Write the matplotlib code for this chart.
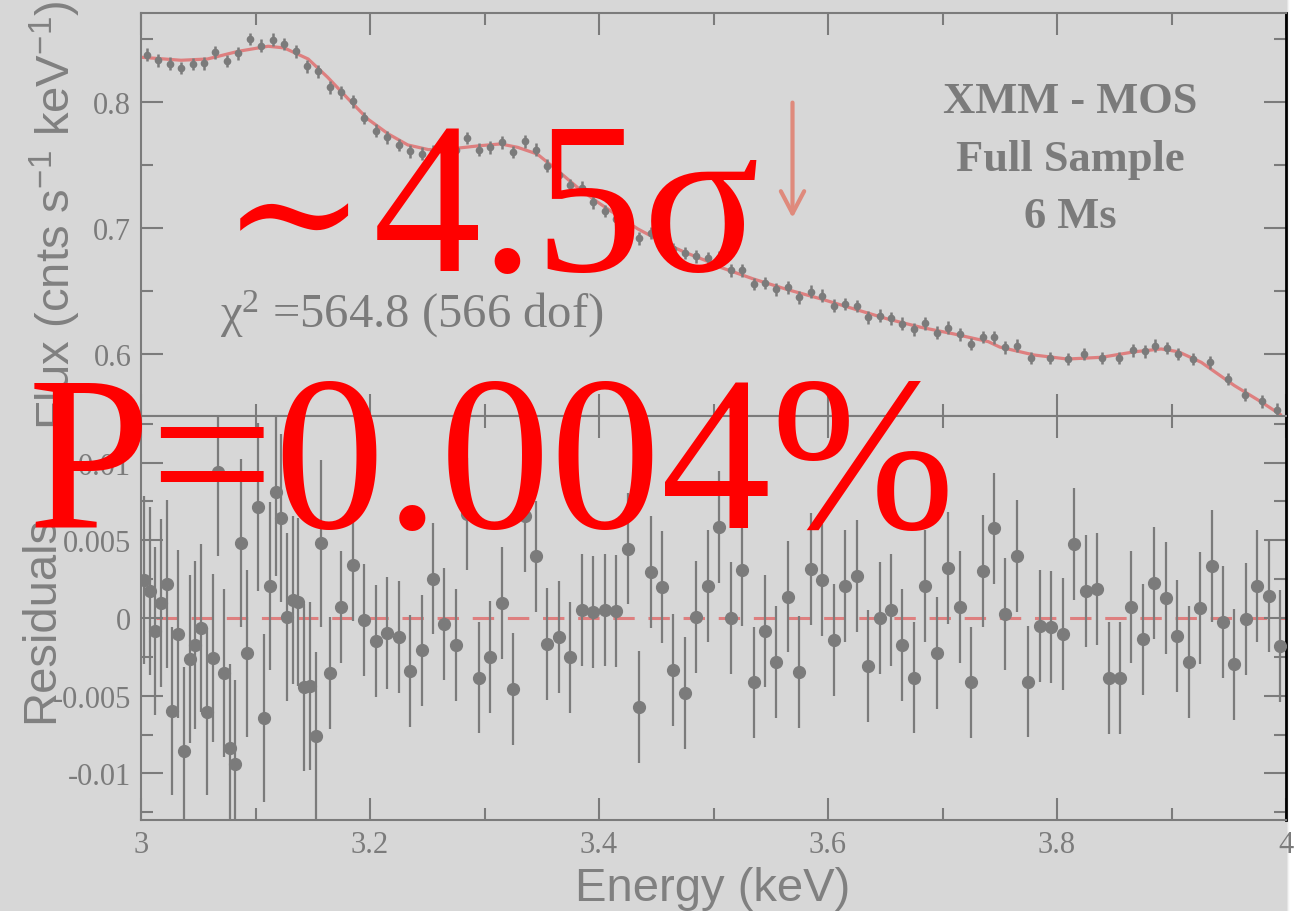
import numpy as np
import matplotlib
matplotlib.use("Agg")
import matplotlib.pyplot as plt
from matplotlib.ticker import MultipleLocator, FuncFormatter
from matplotlib.colors import LinearSegmentedColormap

BG = "#d7d7d7"
GREY = "#7b7b7b"
MODEL = "#de7f7f"
ARROW = "#df8a7c"

# top panel: binned spectrum (keV, cnts/s/keV)
flux_e = [3.005, 3.015, 3.025, 3.035, 3.045, 3.055, 3.065, 3.075, 3.085, 3.095,
          3.105, 3.115, 3.125, 3.135, 3.145, 3.155, 3.165, 3.175, 3.185, 3.195,
          3.205, 3.215, 3.225, 3.235, 3.245, 3.255, 3.265, 3.275, 3.285, 3.295,
          3.305, 3.315, 3.325, 3.335, 3.345, 3.355, 3.365, 3.375, 3.385, 3.395,
          3.405, 3.415, 3.425, 3.435, 3.445, 3.455, 3.465, 3.475, 3.485, 3.495,
          3.505, 3.515, 3.525, 3.535, 3.545, 3.555, 3.565, 3.575, 3.585, 3.595,
          3.605, 3.615, 3.625, 3.635, 3.645, 3.655, 3.665, 3.675, 3.685, 3.695,
          3.705, 3.715, 3.725, 3.735, 3.745, 3.755, 3.765, 3.777, 3.794, 3.810,
          3.824, 3.839, 3.854, 3.866, 3.877, 3.886, 3.896, 3.906, 3.919, 3.934,
          3.949, 3.964, 3.979, 3.992]
flux = [0.8375, 0.8331, 0.8304, 0.8270, 0.8302, 0.8307, 0.8394, 0.8325, 0.8386, 0.8500,
        0.8447, 0.8495, 0.8460, 0.8402, 0.8283, 0.8244, 0.8117, 0.8077, 0.8006, 0.7873,
        0.7772, 0.7720, 0.7659, 0.7609, 0.7590, 0.7605, 0.7620, 0.7615, 0.7714, 0.7622,
        0.7640, 0.7680, 0.7603, 0.7688, 0.7622, 0.7494, 0.7420, 0.7342, 0.7320, 0.7204,
        0.7135, 0.7070, 0.7030, 0.6918, 0.6960, 0.6870, 0.6830, 0.6802, 0.6775, 0.6759,
        0.6764, 0.6665, 0.6663, 0.6556, 0.6563, 0.6512, 0.6529, 0.6450, 0.6494, 0.6463,
        0.6383, 0.6397, 0.6381, 0.6292, 0.6304, 0.6283, 0.6241, 0.6196, 0.6244, 0.6169,
        0.6209, 0.6156, 0.6079, 0.6135, 0.6132, 0.6053, 0.6066, 0.5968, 0.5968, 0.5960,
        0.5999, 0.5968, 0.5968, 0.6030, 0.6020, 0.6066, 0.6048, 0.5999, 0.5960, 0.5934,
        0.5802, 0.5677, 0.5625, 0.5558]
flux_err = 0.005

# best-fit model curve
model_e = [3.000, 3.035, 3.058, 3.085, 3.111, 3.125, 3.146, 3.163, 3.181, 3.198,
           3.216, 3.233, 3.251, 3.270, 3.296, 3.314, 3.329, 3.346, 3.364, 3.381,
           3.399, 3.416, 3.434, 3.457, 3.475, 3.497, 3.506, 3.535, 3.565, 3.594,
           3.623, 3.652, 3.681, 3.710, 3.740, 3.750, 3.780, 3.809, 3.839, 3.868,
           3.891, 3.906, 3.926, 3.955, 3.979, 3.995]
model_flux = [0.8355, 0.8331, 0.8341, 0.8402, 0.8442, 0.8429, 0.8341, 0.8196, 0.8024, 0.7865,
              0.7746, 0.7659, 0.7622, 0.7627, 0.7653, 0.7667, 0.7640, 0.7587, 0.7455, 0.7323,
              0.7204, 0.7100, 0.6992, 0.6881, 0.6807, 0.6728, 0.6688, 0.6595, 0.6510, 0.6437,
              0.6357, 0.6278, 0.6212, 0.6159, 0.6098, 0.6055, 0.5992, 0.5960, 0.5974, 0.6018,
              0.6040, 0.6018, 0.5934, 0.5749, 0.5616, 0.5520]

# bottom panel: residuals
res_e = [3.0025, 3.0075, 3.0125, 3.0175, 3.0225, 3.0275, 3.0325, 3.0375, 3.0425, 3.0475,
         3.0525, 3.0575, 3.0625, 3.0675, 3.0725, 3.0775, 3.0825, 3.0875, 3.0925, 3.1025,
         3.1075, 3.1125, 3.1175, 3.1225, 3.1275, 3.1325, 3.1375, 3.1425, 3.1475, 3.1525,
         3.1575,
         3.165, 3.175, 3.185, 3.195, 3.205, 3.215, 3.225, 3.235, 3.245, 3.255,
         3.265, 3.275, 3.285, 3.295, 3.305, 3.315, 3.325, 3.335, 3.345, 3.355,
         3.365, 3.375, 3.385, 3.395, 3.405, 3.415, 3.425, 3.435, 3.445, 3.455,
         3.465, 3.475, 3.485, 3.495, 3.505, 3.515, 3.525, 3.535, 3.545, 3.555,
         3.565, 3.575, 3.585, 3.595, 3.605, 3.615, 3.625, 3.635, 3.645, 3.655,
         3.665, 3.675, 3.685, 3.695, 3.705, 3.715, 3.725, 3.735, 3.745, 3.755,
         3.765, 3.775, 3.785, 3.795, 3.805, 3.815, 3.825, 3.835, 3.845, 3.855,
         3.865, 3.875, 3.885, 3.895, 3.905, 3.915, 3.925, 3.935, 3.945, 3.955,
         3.965, 3.975, 3.985, 3.995]
res = [0.00247, 0.00176, -0.00082, 0.00097, 0.00221, -0.00596, -0.00101, -0.00856, -0.00265, -0.00172,
       -0.00065, -0.00602, -0.00258, 0.00940, -0.00355, -0.00834, -0.00942, 0.00482, -0.00228, 0.00716,
       -0.00641, 0.00204, 0.00813, 0.00645, 0.00004, 0.00114, 0.00101, -0.00447, -0.00437, -0.00759,
       0.00480,
       -0.00355, 0.00071, 0.00338, -0.00015, -0.00150, -0.00097, -0.00125, -0.00340, -0.00209, 0.00254,
       -0.00037, -0.00174, 0.00670, -0.00383, -0.00250, 0.00097, -0.00458, 0.00656, 0.00396, -0.00170,
       -0.00120, -0.00254, 0.00054, 0.00041, 0.00054, 0.00043, 0.00447, -0.00570, 0.00295, 0.00198,
       -0.00333, -0.00484, 0.00009, 0.00206, 0.00585, 0.00000, 0.00307, -0.00415, -0.00086, -0.00284,
       0.00138, -0.00348, 0.00318, 0.00245, -0.00142, 0.00204, 0.00273, -0.00308, -0.00002, 0.00052,
       -0.00174, -0.00383, 0.00204, -0.00228, 0.00323, 0.00073, -0.00415, 0.00301, 0.00576, 0.00026,
       0.00398, -0.00409, -0.00054, -0.00060, -0.00101, 0.00477, 0.00176, 0.00189, -0.00387, -0.00387,
       0.00071, -0.00138, 0.00224, 0.00127, -0.00116, -0.00282, 0.00062, 0.00335, -0.00026, -0.00299,
       -0.00009, 0.00204, 0.00144, -0.00181]
# fine bins (first 31) have larger errors
res_err = [0.0054] * 31 + [0.0036] * 84

plt.rcParams["axes.unicode_minus"] = False
plt.rcParams["mathtext.default"] = "regular"
plt.rcParams["font.family"] = ["Liberation Serif", "DejaVu Serif"]

W, H = 1301, 912
fig = plt.figure(figsize=(W / 100, H / 100), dpi=100, facecolor=BG)

# white shadow strip on the right edge (drawn first, behind the axes)
strip = fig.add_axes([1287 / W, 0, 14 / W, 1], zorder=-1)
grad = np.array([[0.35, 0.7, 0.9, 1, 1, 1, 1, 1, 1, 1, 1, 1, 1, 1]])
strip.imshow(grad, aspect="auto", vmin=0, vmax=1,
             cmap=LinearSegmentedColormap.from_list("edge", [BG, "white"]))
strip.axis("off")

left, right = 141 / W, 1286 / W
ax1 = fig.add_axes([left, 1 - 417 / H, right - left, 403 / H], facecolor=BG)
ax2 = fig.add_axes([left, 1 - 821 / H, right - left, 404 / H], facecolor=BG, sharex=ax1)


def fmt(v, pos):
    if abs(v) < 1e-9:
        return "0"
    return f"{v:g}"


for ax in (ax1, ax2):
    for s in ax.spines.values():
        s.set_color(GREY)
        s.set_linewidth(1.5)
    ax.spines["right"].set_color("black")
    ax.spines["right"].set_linewidth(2)
    ax.tick_params(which="both", direction="in", top=True, right=True,
                   color=GREY, width=1.5, labelcolor=GREY, labelsize=22, pad=7)
    ax.tick_params(which="major", length=16)
    ax.tick_params(which="minor", length=8.5)
    ax.yaxis.set_major_formatter(FuncFormatter(fmt))

ax1.set_xlim(3, 4)
ax1.xaxis.set_major_locator(MultipleLocator(0.2))
ax1.xaxis.set_minor_locator(MultipleLocator(0.1))
ax1.xaxis.set_major_formatter(FuncFormatter(fmt))
ax1.tick_params(labelbottom=False)

ax1.set_ylim(0.5508, 0.8706)
ax1.yaxis.set_major_locator(MultipleLocator(0.1))
ax1.yaxis.set_minor_locator(MultipleLocator(0.05))
ax2.set_ylim(-0.013, 0.013)
ax2.yaxis.set_major_locator(MultipleLocator(0.005))
ax2.yaxis.set_minor_locator(MultipleLocator(0.0025))

# spectrum + model
ax1.plot(model_e, model_flux, color=MODEL, lw=2.3, zorder=2)
ax1.errorbar(flux_e, flux, yerr=flux_err, fmt="o", ms=4.5, color=GREY,
             elinewidth=1.8, capsize=0, zorder=3)

# residuals
ax2.axhline(0, xmin=0.013, color=MODEL, lw=2.2, dashes=(7, 4.5), zorder=1)
ax2.errorbar(res_e, res, yerr=res_err, fmt="o", ms=8.5, color=GREY,
             elinewidth=1.6, capsize=0, zorder=3)

fig.canvas.draw()
ax2.xaxis.get_major_ticks()[-1].label1.set_color("black")

# line position arrow
ax1.annotate("", xy=(3.569, 0.708), xytext=(3.569, 0.7995),
             arrowprops=dict(arrowstyle="->,head_length=0.8,head_width=0.42",
                             color=ARROW, lw=3, mutation_scale=20,
                             shrinkA=0, shrinkB=0))

# labels
lab = dict(family="Liberation Sans", color="#808080", fontsize=34)
fig.text(70 / W, 1 - 215 / H, "Flux (cnts s$^{-1}$ keV$^{-1}$)", rotation=90,
         rotation_mode="anchor", ha="center", va="baseline", **lab)
fig.text(53 / W, 1 - 619 / H, "Residuals", rotation=90,
         rotation_mode="anchor", ha="center", va="baseline", **lab)
fig.text(713 / W, 1 - 901 / H, "Energy (keV)", ha="center", va="baseline", **lab)

fig.text(220 / W, 1 - 328 / H, "χ$^2$ =564.8 (566 dof)", color=GREY,
         fontsize=35, va="baseline")

for txt, yb in (("XMM - MOS", 113), ("Full Sample", 171), ("6 Ms", 228)):
    fig.text(1070 / W, 1 - yb / H, txt, color=GREY, fontsize=32,
             fontweight="bold", ha="center", va="baseline")

# big red annotation: tilde drawn in DejaVu Serif (wide glyph), rest in Liberation Serif
fig.text(222 / W, 1 - 271 / H, "\u223c", color="red", fontsize=124,
         family="DejaVu Serif", va="baseline")
fig.text(373 / W, 1 - 271 / H, "4.5σ", color="red", fontsize=156, va="baseline")
fig.text(28 / W, 1 - 528 / H, "P=0.004%", color="red", fontsize=159, va="baseline")

fig.savefig("out.png", dpi=100, facecolor=BG)
